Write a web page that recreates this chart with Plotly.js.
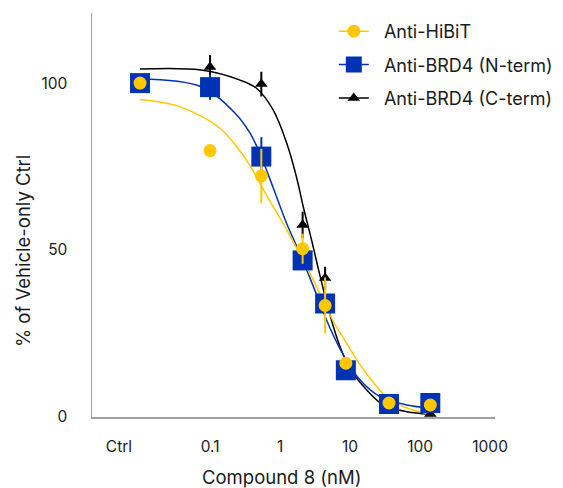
<!DOCTYPE html>
<html>
<head>
<meta charset="utf-8">
<script src="https://cdn.plot.ly/plotly-3.0.1.min.js"></script>
<style>html,body{margin:0;padding:0;background:#fff}#chart{width:563px;height:488px}</style>
</head>
<body>
<div id="chart"></div>
<script>
// Tick positions / labels
const tickVals = [0.005, 0.1, 1, 10, 100, 1000];
const tickText = ["Ctrl", "0.1", "1", "10", "100", "1000"];

// Measured points (x = concentration, nM; Ctrl plotted at 0.01)
const doseX = [0.01, 0.1, 0.54, 2.1, 4.4, 8.7, 36, 140];
const hibitY   = [100, 79.8, 72.2, 50.4, 33.4, 16.1, 4.2, 3.6];
const hibitErr = [0, 0, 8.1, 4.5, 8.4, 1, 0.5, 0.5];
const ntermY   = [100, 98.8, 78.0, 46.9, 34.0, 14.0, 3.9, 4.2];
const ntermErr = [0, 3.8, 5.8, 2, 2, 1, 0.5, 0.5];
const ctermY   = [100, 104.8, 99.7, 57.5, 41.6, 13.5, 3.0, 0.9];
const ctermErr = [0, 3.6, 3.7, 4, 3.4, 1, 0.5, 0.5];

// Fitted curves
const hibitFitX = [0.01, 0.0316, 0.0744, 0.14, 0.228, 0.373, 0.535, 0.80, 1.25, 2.04, 2.99, 5.77, 8.02, 12.47, 17.3, 33.4, 64.6, 139];
const hibitFitY = [95.1, 93.4, 90.1, 86.4, 81.6, 75.3, 69.4, 62.9, 56.0, 47.6, 41.0, 28.6, 23.7, 17.1, 12.9, 6.0, 2.7, 0.9];
const ntermFitX = [0.01, 0.0744, 0.228, 0.373, 0.535, 0.80, 1.25, 1.83, 2.68, 4.16, 5.18, 8.02, 13.9, 26.8, 64.6, 139];
const ntermFitY = [101.2, 98.9, 91.0, 85.0, 78.1, 68.6, 57.8, 50.0, 41.6, 31.4, 26.6, 18.6, 11.1, 6.1, 3.6, 2.7];
const ctermFitX = [0.01, 0.0744, 0.268, 0.465, 0.80, 1.25, 1.73, 2.15, 2.84, 3.73, 5.18, 7.2, 10, 17.3, 29.9, 64.6, 139];
const ctermFitY = [104.2, 103.9, 100.9, 98.4, 91.9, 81.9, 71.6, 62.9, 52.7, 42.2, 30.5, 21.0, 14.4, 8.1, 3.6, 1.6, 0.9];

const names = ["Anti-HiBiT", "Anti-BRD4 (N-term)", "Anti-BRD4 (C-term)"];

const YEL = "#FFC800", BLU = "#0033B4", BLK = "#000000";
const FONT = "Inter, 'Noto Sans', sans-serif";
const TXT = "#1a1a1a";
const PAD = "\u00a0\u00a0";

function fit(x, y, c) {
  return {x, y, type: "scatter", mode: "lines", line: {color: c, width: 1.5, shape: "spline", smoothing: 1},
          showlegend: false, hoverinfo: "skip"};
}
function pts(y, err, c, sym, size) {
  return {x: doseX, y, type: "scatter", mode: "markers", showlegend: false,
          marker: {color: c, symbol: sym, size: size},
          error_y: {type: "data", array: err, visible: true, color: c, thickness: 2, width: 0}};
}
function leg(name, c, sym, size, g) {
  return {x: [null], y: [null], type: "scatter", mode: "lines+markers", name: PAD + name, legendgroup: g,
          line: {color: c, width: 1.5}, marker: {color: c, symbol: sym, size: size}};
}

const data = [
  fit(ctermFitX, ctermFitY, BLK),
  fit(ntermFitX, ntermFitY, BLU),
  fit(hibitFitX, hibitFitY, YEL),
  pts(ctermY, ctermErr, BLK, "triangle-up", 11),
  pts(ntermY, ntermErr, BLU, "square", 20),
  pts(hibitY, hibitErr, YEL, "circle", 13),
  leg(names[0], YEL, "circle", 13, "a"),
  leg(names[1], BLU, "square", 20, "b"),
  leg(names[2], BLK, "triangle-up", 11, "c")
];

const layout = {
  width: 563, height: 488,
  margin: {l: 92, r: 68, t: 13, b: 71, autoexpand: false},
  paper_bgcolor: "#fff", plot_bgcolor: "#fff",
  font: {family: FONT, size: 16, color: TXT},
  showlegend: true,
  legend: {x: 0.6, y: 1.0, xanchor: "left", yanchor: "top",
           bgcolor: "rgba(0,0,0,0)", font: {family: FONT, size: 18, color: TXT},
           tracegroupgap: 7, traceorder: "grouped"},
  xaxis: {type: "log", range: [-2.686, 3.07], tickvals: tickVals, ticktext: tickText,
          showgrid: false, zeroline: false, showline: true, linecolor: "#a0a0a0", linewidth: 1.5,
          ticks: "", ticklabelstandoff: 15, tickfont: {family: FONT, size: 15.5, color: TXT}},
  yaxis: {range: [0, 121], tickvals: [0, 50, 100], showgrid: false, zeroline: false,
          showline: true, linecolor: "#a0a0a0", linewidth: 1.5, ticks: "", ticklabelstandoff: 20,
          tickfont: {family: FONT, size: 15.5, color: TXT}},
  annotations: [
    {text: "Compound 8 (nM)", xref: "paper", yref: "paper", x: 0.471, y: -0.1485,
     xanchor: "center", yanchor: "middle", showarrow: false, font: {family: FONT, size: 18.5, color: TXT}},
    {text: "% of Vehicle-only Ctrl", xref: "paper", yref: "paper", x: -0.171, y: 0.411,
     xanchor: "center", yanchor: "middle", textangle: -90, showarrow: false,
     font: {family: FONT, size: 18.5, color: TXT}}
  ]
};

Plotly.newPlot("chart", data, layout, {displayModeBar: false, staticPlot: true});
</script>
</body>
</html>
